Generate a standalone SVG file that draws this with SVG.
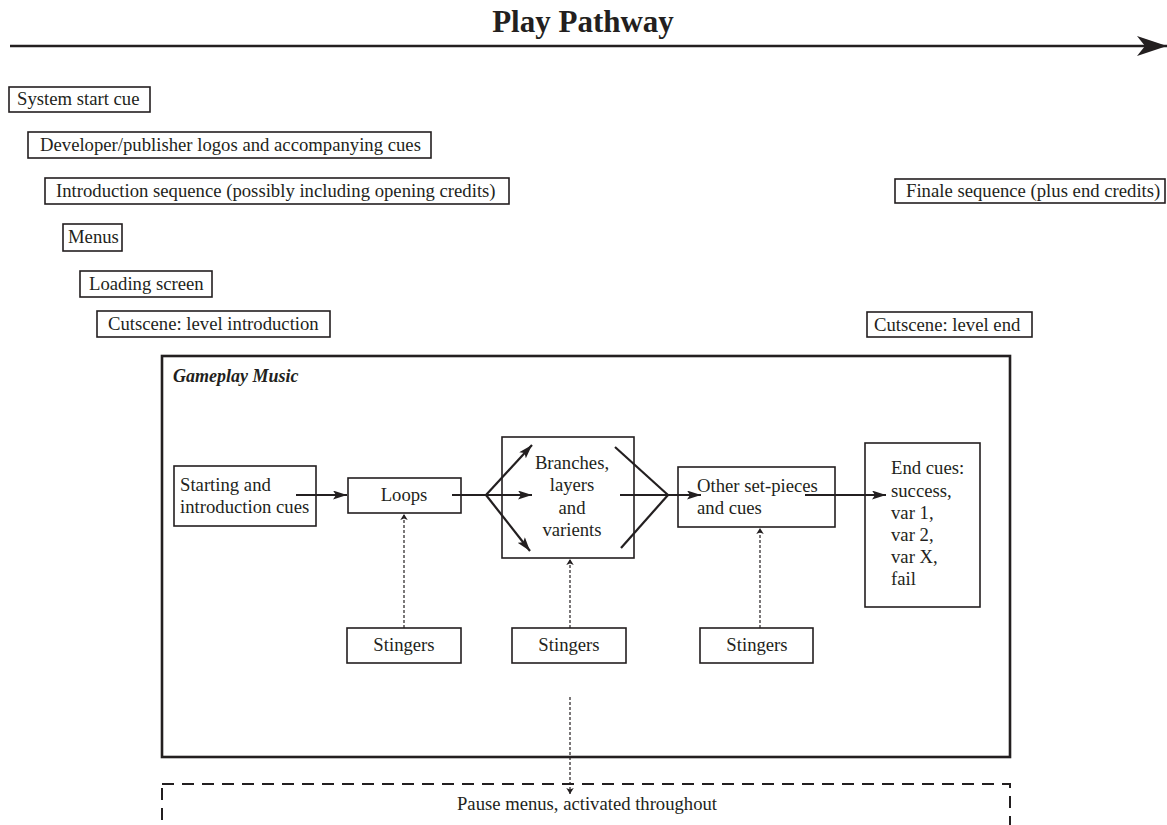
<svg xmlns="http://www.w3.org/2000/svg" width="1167" height="825" viewBox="0 0 1167 825">
<style>
text{font-family:"Liberation Serif","Times New Roman",serif;font-size:18.7px;fill:#231f20}
.box{fill:#fff;stroke:#231f20;stroke-width:1.6}
.big{fill:none;stroke:#231f20;stroke-width:2.6}
.dash{fill:none;stroke:#231f20;stroke-width:2;stroke-dasharray:12 8}
.con{fill:none;stroke:#231f20;stroke-width:2.2}
.dot{fill:none;stroke:#231f20;stroke-width:1.2;stroke-dasharray:3 2}
.c{text-anchor:middle}
</style>
<defs>
<marker id="ah" viewBox="0 0 14 9" markerWidth="14" markerHeight="9" refX="14" refY="4.5" orient="auto" markerUnits="userSpaceOnUse">
<path d="M0,0 L14,4.5 L0,9 L3,4.5 z" fill="#231f20"/>
</marker>
<marker id="ahs" viewBox="0 0 8 10" markerWidth="6" markerHeight="9" refX="8" refY="5" orient="auto" markerUnits="userSpaceOnUse">
<path d="M0,0 L8,5 L0,10 L2,5 z" fill="#231f20"/>
</marker>
<marker id="ahbig" viewBox="0 0 30 20" markerWidth="30" markerHeight="20" refX="30" refY="10" orient="auto" markerUnits="userSpaceOnUse">
<path d="M0,0 L30,10 L0,20 L8,10 z" fill="#231f20"/>
</marker>
</defs>

<g id="title">
<text x="583" y="32" class="c" style="font-size:31px;font-weight:bold">Play Pathway</text>
</g>

<g id="system-start">
<rect class="box" x="9" y="87" width="141" height="25"/>
<text x="17" y="105">System start cue</text>
</g>
<g id="developer-logos">
<rect class="box" x="28" y="132" width="403" height="26"/>
<text x="40" y="151">Developer/publisher logos and accompanying cues</text>
</g>
<g id="intro-sequence">
<rect class="box" x="45" y="178" width="464" height="26"/>
<text x="56" y="197">Introduction sequence (possibly including opening credits)</text>
</g>
<g id="menus">
<rect class="box" x="63" y="224" width="59" height="27"/>
<text x="68" y="243">Menus</text>
</g>
<g id="loading-screen">
<rect class="box" x="80" y="271" width="132" height="26"/>
<text x="89" y="290">Loading screen</text>
</g>
<g id="cutscene-intro">
<rect class="box" x="97" y="311" width="233" height="26"/>
<text x="108" y="330">Cutscene: level introduction</text>
</g>
<g id="finale">
<rect class="box" x="895" y="179" width="270" height="24"/>
<text x="906" y="197">Finale sequence (plus end credits)</text>
</g>
<g id="cutscene-end">
<rect class="box" x="867" y="312" width="165" height="25"/>
<text x="874" y="331">Cutscene: level end</text>
</g>

<g id="gameplay-music">
<rect class="big" x="162" y="356" width="848" height="401"/>
<text x="173" y="382" style="font-weight:bold;font-style:italic;font-size:18px">Gameplay Music</text>
</g>

<g id="starting-cues">
<rect class="box" x="174" y="466" width="142" height="60"/>
<text x="180" y="491">Starting and</text>
<text x="180" y="513">introduction cues</text>
</g>
<g id="loops">
<rect class="box" x="348" y="478" width="113" height="35"/>
<text x="404" y="501" class="c">Loops</text>
</g>
<g id="branches">
<rect class="box" x="502" y="437" width="132" height="121"/>
<text x="572" y="469" class="c">Branches,</text>
<text x="572" y="491" class="c">layers</text>
<text x="572" y="514" class="c">and</text>
<text x="572" y="536" class="c">varients</text>
</g>
<g id="other-set-pieces">
<rect class="box" x="678" y="467" width="157" height="60"/>
<text x="697" y="492">Other set-pieces</text>
<text x="697" y="514">and cues</text>
</g>
<g id="end-cues">
<rect class="box" x="865" y="443" width="115" height="164"/>
<text x="891" y="474">End cues:</text>
<text x="891" y="497">success,</text>
<text x="891" y="519">var 1,</text>
<text x="891" y="541">var 2,</text>
<text x="891" y="563">var X,</text>
<text x="891" y="585">fail</text>
</g>
<g id="stingers-1">
<rect class="box" x="347" y="628" width="114" height="35"/>
<text x="404" y="651" class="c">Stingers</text>
</g>
<g id="stingers-2">
<rect class="box" x="512" y="628" width="114" height="35"/>
<text x="569" y="651" class="c">Stingers</text>
</g>
<g id="stingers-3">
<rect class="box" x="700" y="628" width="113" height="35"/>
<text x="757" y="651" class="c">Stingers</text>
</g>

<g id="pause-menus">
<rect class="dash" x="162" y="784" width="848" height="80"/>
<text x="587" y="810" class="c" textLength="260" lengthAdjust="spacingAndGlyphs">Pause menus, activated throughout</text>
</g>

<g id="connectors">
<line x1="10" y1="46" x2="1167" y2="46" stroke="#231f20" stroke-width="2.4" marker-end="url(#ahbig)"/>
<line class="con" x1="296" y1="495" x2="347" y2="495" marker-end="url(#ah)"/>
<line class="con" x1="452" y1="495" x2="486" y2="495"/>
<line class="con" x1="486" y1="495" x2="532" y2="445" marker-end="url(#ah)"/>
<line class="con" x1="486" y1="495" x2="532" y2="495" marker-end="url(#ah)"/>
<line class="con" x1="486" y1="495" x2="530" y2="551" marker-end="url(#ah)"/>
<line class="con" x1="615" y1="447" x2="668" y2="495"/>
<line class="con" x1="621" y1="548" x2="668" y2="495"/>
<line class="con" x1="620" y1="495" x2="701" y2="495" marker-end="url(#ah)"/>
<line class="con" x1="805" y1="495" x2="886" y2="495" marker-end="url(#ah)"/>
<line class="dot" x1="404" y1="628" x2="404" y2="514" marker-end="url(#ahs)"/>
<line class="dot" x1="570" y1="628" x2="570" y2="559" marker-end="url(#ahs)"/>
<line class="dot" x1="760" y1="628" x2="760" y2="528" marker-end="url(#ahs)"/>
<line class="dot" x1="570" y1="697" x2="570" y2="794" marker-end="url(#ahs)"/>
</g>
</svg>
